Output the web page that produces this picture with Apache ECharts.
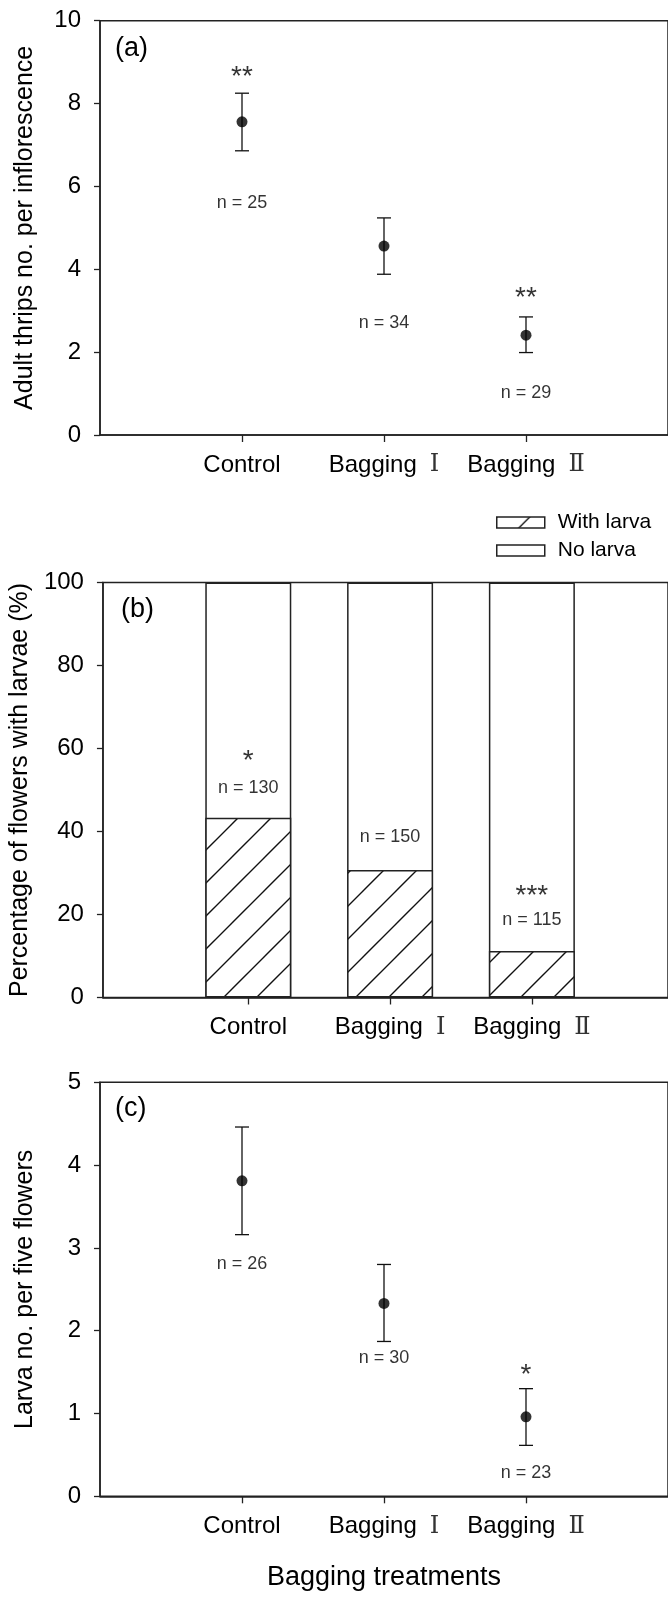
<!DOCTYPE html>
<html>
<head>
<meta charset="utf-8">
<script src="https://cdn.jsdelivr.net/npm/echarts@6/dist/echarts.min.js"></script>
<style>
  html, body { margin: 0; padding: 0; background: #fff; }
  #chart { width: 668px; height: 1603px; }
</style>
</head>
<body>
<div id="chart"></div>
<script>
// ---------- data ----------
const categories = ['Control', 'Bagging Ⅰ', 'Bagging Ⅱ'];
const catPos = [1, 2, 3];

// (a) adult thrips per inflorescence
const adultMean = [7.56, 4.56, 2.41];
const adultLow  = [6.86, 3.88, 1.99];
const adultHigh = [8.25, 5.24, 2.85];
const adultN    = ['n = 25', 'n = 34', 'n = 29'];
const adultSig  = ['**', '', '**'];

// (b) percentage of flowers with larvae
const withLarva = [43.3, 30.7, 11.2];
const noLarva   = [56.7, 69.3, 88.8];
const flowerN   = ['n = 130', 'n = 150', 'n = 115'];
const flowerSig = ['*', '', '***'];

// (c) larva per five flowers
const larvaMean = [3.81, 2.33, 0.96];
const larvaLow  = [3.16, 1.87, 0.615];
const larvaHigh = [4.46, 2.80, 1.30];
const larvaN    = ['n = 26', 'n = 30', 'n = 23'];
const larvaSig  = ['', '', '*'];

// annotation anchors (axis units)
const adultNY   = [5.59, 2.71, 1.02];
const adultSigY = [8.81, null, 3.46];
const flowerNY  = [50.5, 38.7, 18.6];
const flowerSigY = [58.7, null, 26.1];
const larvaNY   = [2.805, 1.671, 0.286];
const larvaSigY = [null, null, 1.55];

// ---------- styling ----------
const FONT = "'Liberation Sans', Arial, 'Noto Sans CJK SC', sans-serif";
const SERIF = "'DejaVu Serif', 'Liberation Serif', 'Noto Sans CJK SC', serif";
const AX = '#222';

// hatch pattern
const tile = document.createElement('canvas');
tile.width = 33; tile.height = 33;
(function () {
  const c = tile.getContext('2d');
  c.fillStyle = '#fff'; c.fillRect(0, 0, 33, 33);
  c.strokeStyle = '#111'; c.lineWidth = 1.4;
  c.beginPath();
  [-33, 0, 33].forEach(o => { c.moveTo(o - 2, 35); c.lineTo(o + 35, -2); });
  c.stroke();
})();

function errRender(params, api) {
  const x = api.value(0), lo = api.value(1), hi = api.value(2);
  const pLo = api.coord([x, lo]), pHi = api.coord([x, hi]);
  const cap = 7;
  const style = { stroke: '#111', lineWidth: 1.3 };
  return { type: 'group', children: [
    { type: 'line', shape: { x1: pLo[0], y1: pLo[1], x2: pHi[0], y2: pHi[1] }, style },
    { type: 'line', shape: { x1: pLo[0] - cap, y1: pLo[1], x2: pLo[0] + cap, y2: pLo[1] }, style },
    { type: 'line', shape: { x1: pHi[0] - cap, y1: pHi[1], x2: pHi[0] + cap, y2: pHi[1] }, style }
  ]};
}

function textSeries(idx, texts, ys, size, offsetY) {
  const data = [];
  texts.forEach((t, i) => { if (t && ys[i] != null) data.push([catPos[i], ys[i], t]); });
  return {
    type: 'scatter', xAxisIndex: idx, yAxisIndex: idx, symbolSize: 0, silent: true,
    data,
    label: { show: true, position: 'inside', formatter: p => p.data[2],
      fontSize: size, color: '#000', fontFamily: FONT, offset: [0, offsetY] }
  };
}

// split "Bagging Ⅰ" into word + roman numeral (numeral drawn in a serif face as in the original)
function catLabel(v) {
  const name = categories[Math.round(v) - 1] || '';
  const m = name.match(/^(.*?)\s*([\u2160-\u2188]+)$/);
  if (!m) return '{t|' + name + '}';
  return '{t|' + m[1] + '}{r|' + m[2] + '}';
}

function xAxisDef(idx, min, max, withName) {
  const ax = {
    type: 'value', gridIndex: idx, min, max,
    axisLine: { show: true, onZero: false, lineStyle: { color: AX, width: 1.5 } },
    axisTick: { show: true, length: 7, customValues: catPos, lineStyle: { color: AX, width: 1.3 } },
    axisLabel: { show: true, customValues: catPos, margin: 18, fontSize: 24, color: '#000', fontFamily: FONT,
      formatter: catLabel,
      rich: {
        t: { fontSize: 24, color: '#000', fontFamily: FONT },
        r: { fontSize: 24, color: '#333', fontFamily: SERIF, padding: [0, 0, 0, 13] }
      }
    },
    splitLine: { show: false }
  };
  if (withName) {
    ax.name = 'Bagging treatments';
    ax.nameLocation = 'middle';
    ax.nameGap = 68;
    ax.nameTextStyle = { fontSize: 27, color: '#000', fontFamily: FONT };
  }
  return ax;
}

function yAxisDef(idx, max, interval, name) {
  return {
    type: 'value', gridIndex: idx, min: 0, max, interval,
    name, nameLocation: 'middle', nameGap: 62, nameRotate: 90,
    nameTextStyle: { fontSize: 25, color: '#000', fontFamily: FONT },
    axisLine: { show: true, onZero: false, lineStyle: { color: AX, width: 1.5 } },
    axisTick: { show: true, length: 6, lineStyle: { color: AX, width: 1.3 } },
    axisLabel: { margin: 19, fontSize: 24, color: '#000', fontFamily: FONT },
    splitLine: { show: false }
  };
}

const gridCommon = { left: 100, width: 575, show: true, borderColor: AX, borderWidth: 1.5, backgroundColor: 'transparent', containLabel: false };

const option = {
  animation: false,
  backgroundColor: '#fff',
  title: [
    { text: '(a)', left: 115, top: 35, padding: 0, textStyle: { fontSize: 27, fontWeight: 'normal', color: '#000', fontFamily: FONT } },
    { text: '(b)', left: 121, top: 596, padding: 0, textStyle: { fontSize: 27, fontWeight: 'normal', color: '#000', fontFamily: FONT } },
    { text: '(c)', left: 115, top: 1095, padding: 0, textStyle: { fontSize: 27, fontWeight: 'normal', color: '#000', fontFamily: FONT } }
  ],
  legend: {
    orient: 'vertical', left: 491, top: 507, itemWidth: 48, itemHeight: 11, itemGap: 7,
    icon: 'rect', selectedMode: false, data: ['With larva', 'No larva'],
    itemStyle: { borderColor: AX, borderWidth: 1.5 },
    textStyle: { fontSize: 21, color: '#000', fontFamily: FONT, padding: [0, 0, 0, 8] }
  },
  grid: [
    Object.assign({ top: 20.7, height: 414.3 }, gridCommon),
    Object.assign({ top: 582.5, height: 415 }, gridCommon),
    Object.assign({ top: 1082.3, height: 414 }, gridCommon)
  ],
  xAxis: [
    xAxisDef(0, 0, 4, false),
    xAxisDef(1, -0.025, 3.96, false),
    xAxisDef(2, 0, 4, true)
  ],
  yAxis: [
    yAxisDef(0, 10, 2, 'Adult thrips no. per inflorescence'),
    yAxisDef(1, 100, 20, 'Percentage of flowers with larvae (%)'),
    yAxisDef(2, 5, 1, 'Larva no. per five flowers')
  ],
  series: [
    // (a)
    { type: 'custom', xAxisIndex: 0, yAxisIndex: 0, renderItem: errRender, silent: true,
      data: catPos.map((x, i) => [x, adultLow[i], adultHigh[i]]) },
    { type: 'scatter', xAxisIndex: 0, yAxisIndex: 0, symbol: 'circle', symbolSize: 11, silent: true,
      itemStyle: { color: '#000' }, data: catPos.map((x, i) => [x, adultMean[i]]) },
    textSeries(0, adultN, adultNY, 18, 0),
    textSeries(0, adultSig, adultSigY, 28, 7),
    // (b) stacked bars: "No larva" segment drawn to the stack top, "With larva" overlaid from 0
    { name: 'No larva', type: 'bar', xAxisIndex: 1, yAxisIndex: 1, barWidth: 86, barGap: '-100%', silent: true,
      itemStyle: { color: '#fff', borderColor: AX, borderWidth: 1.5 },
      data: catPos.map((x, i) => [x, withLarva[i] + noLarva[i]]) },
    { name: 'With larva', type: 'bar', xAxisIndex: 1, yAxisIndex: 1, barWidth: 86, barGap: '-100%', silent: true,
      itemStyle: { color: { image: tile, repeat: 'repeat' }, borderColor: AX, borderWidth: 1.5 },
      data: catPos.map((x, i) => [x, withLarva[i]]) },
    textSeries(1, flowerN, flowerNY, 18, 0),
    textSeries(1, flowerSig, flowerSigY, 28, 7),
    // (c)
    { type: 'custom', xAxisIndex: 2, yAxisIndex: 2, renderItem: errRender, silent: true,
      data: catPos.map((x, i) => [x, larvaLow[i], larvaHigh[i]]) },
    { type: 'scatter', xAxisIndex: 2, yAxisIndex: 2, symbol: 'circle', symbolSize: 11, silent: true,
      itemStyle: { color: '#000' }, data: catPos.map((x, i) => [x, larvaMean[i]]) },
    textSeries(2, larvaN, larvaNY, 18, 0),
    textSeries(2, larvaSig, larvaSigY, 28, 7)
  ]
};

const chart = echarts.init(document.getElementById('chart'), null, { renderer: 'canvas' });
chart.setOption(option);
</script>
</body>
</html>
